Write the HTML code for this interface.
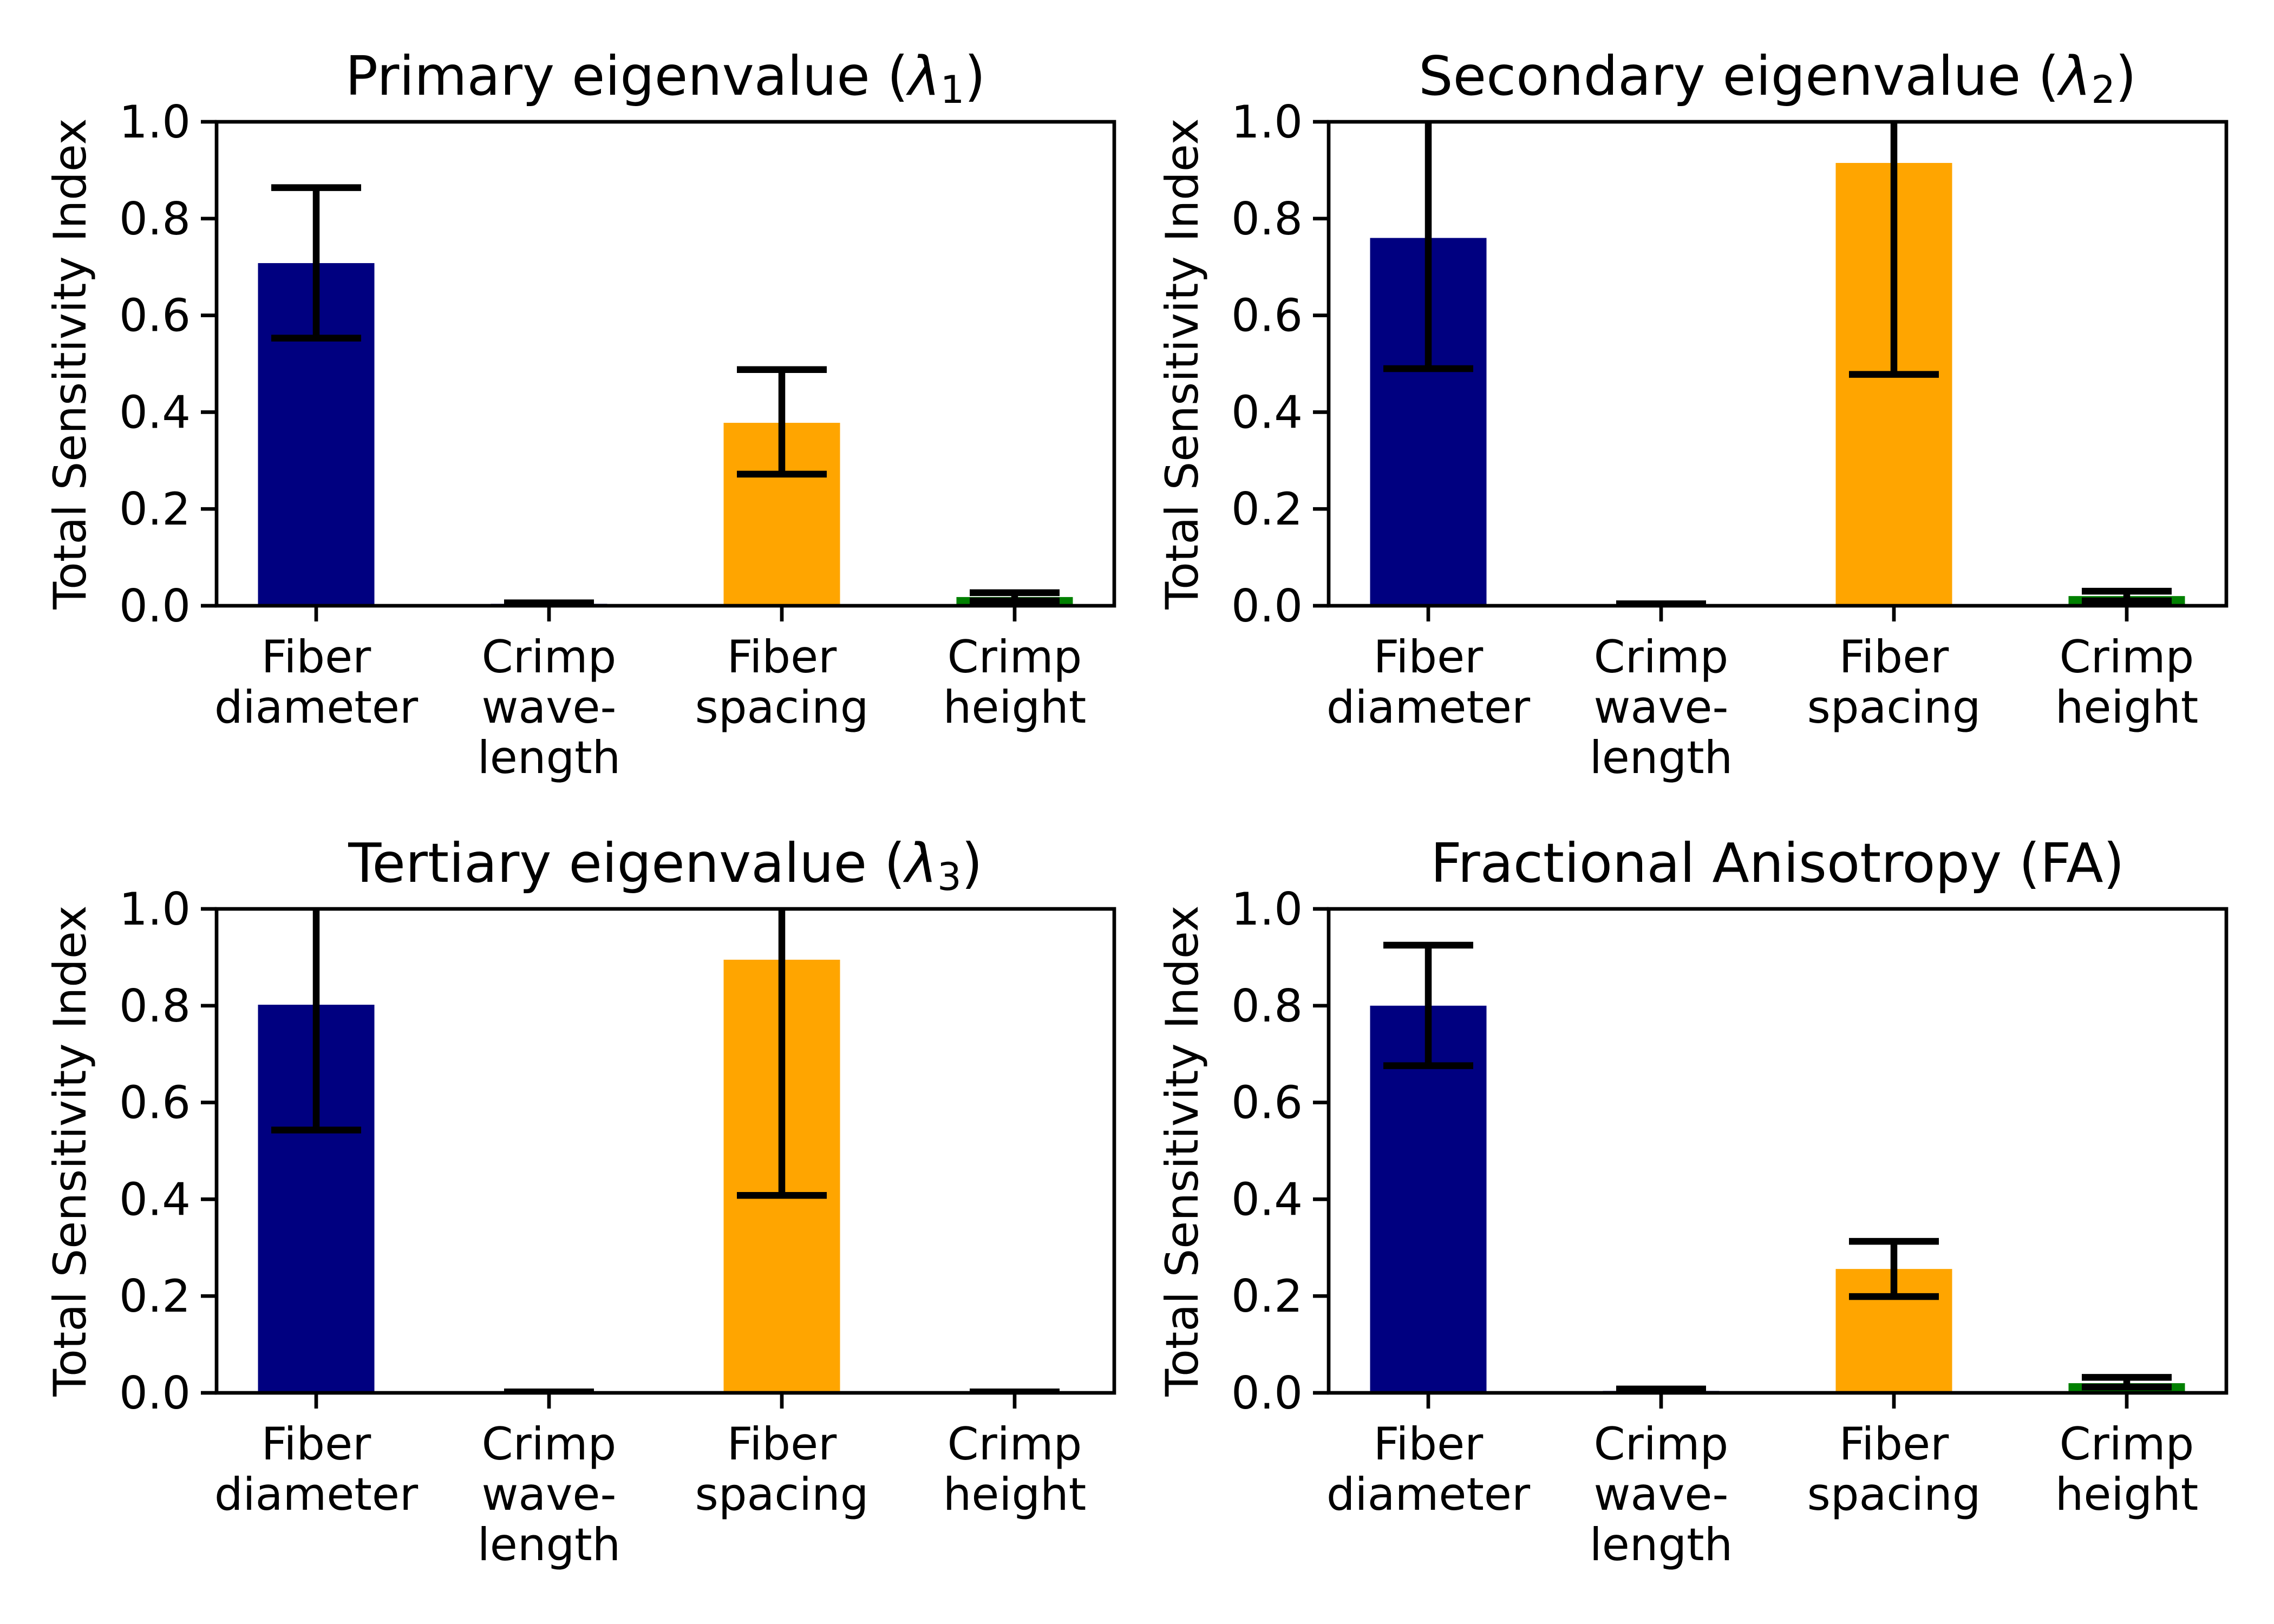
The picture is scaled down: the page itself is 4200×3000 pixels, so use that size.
<!DOCTYPE html>
<html><head><meta charset="utf-8">
<style>
html,body{margin:0;padding:0;background:#fff;}
svg{display:block;font-family:"DejaVu Sans","Liberation Sans",sans-serif;}
</style></head>
<body>
<svg id="fig" width="4200" height="3000" viewBox="0 0 4200 3000" xmlns="http://www.w3.org/2000/svg">
<rect width="4200" height="3000" fill="#fff"/>
</svg>
<script>
const categories = [["Fiber","diameter"],["Crimp","wave-","length"],["Fiber","spacing"],["Crimp","height"]];
const barColors = ["#000080","#000080","#FFA500","#008000"];
const yTicks = [0,0.2,0.4,0.6,0.8,1.0];
const yTickLabels = ["0.0","0.2","0.4","0.6","0.8","1.0"];
const titles = ["Primary eigenvalue (λ1)","Secondary eigenvalue (λ2)","Tertiary eigenvalue (λ3)","Fractional Anisotropy (FA)"];
const values1 = [0.708, 0.004, 0.378, 0.018];
const errLow1 = [0.553, 0.002, 0.272, 0.010];
const errHigh1 = [0.864, 0.006, 0.488, 0.027];
const values2 = [0.760, 0.003, 0.915, 0.020];
const errLow2 = [0.490, 0.002, 0.478, 0.010];
const errHigh2 = [1.030, 0.004, 1.350, 0.030];
const values3 = [0.802, 0.002, 0.895, 0.002];
const errLow3 = [0.543, 0.002, 0.408, 0.002];
const errHigh3 = [1.060, 0.002, 1.380, 0.002];
const values4 = [0.800, 0.004, 0.256, 0.020];
const errLow4 = [0.676, 0.002, 0.199, 0.012];
const errHigh4 = [0.925, 0.008, 0.313, 0.032];

const panels = [
  {x:400,y:225,v:values1,lo:errLow1,hi:errHigh1,t:titles[0],name:"primary-eigenvalue"},
  {x:2454,y:225,v:values2,lo:errLow2,hi:errHigh2,t:titles[1],name:"secondary-eigenvalue"},
  {x:400,y:1679,v:values3,lo:errLow3,hi:errHigh3,t:titles[2],name:"tertiary-eigenvalue"},
  {x:2454,y:1679,v:values4,lo:errLow4,hi:errHigh4,t:titles[3],name:"fractional-anisotropy"}
];
const W = 1658, H = 894, STEP = 430, OFF = 184;
const NS = "http://www.w3.org/2000/svg";
const fig = document.getElementById("fig");
function mk(tag, attrs, parent){
  const e = document.createElementNS(NS, tag);
  for (const k in attrs) e.setAttribute(k, attrs[k]);
  (parent||fig).appendChild(e);
  return e;
}
panels.forEach((p, pi) => {
  const g = mk("g", {});
  
  
  const xs = i => p.x + OFF + i*STEP;
  const ys = v => p.y + H - v*H;
  const cid = "clip"+pi;
  const cp = mk("clipPath", {id:cid}, g);
  mk("rect", {x:p.x, y:p.y, width:W, height:H}, cp);
  const plot = mk("g", {"clip-path":"url(#"+cid+")"}, g);
  // bars
  p.v.forEach((v,i) => {
    const b = mk("rect", {x:xs(i)-STEP/4, y:ys(v), width:STEP/2, height:ys(0)-ys(v), fill:barColors[i]}, plot);
    
    
  });
  // error bars
  p.v.forEach((v,i) => {
    const eg = mk("g", {stroke:"#000","stroke-width":12.5}, plot);
    
    
    mk("line", {x1:xs(i), x2:xs(i), y1:ys(p.lo[i]), y2:ys(p.hi[i])}, eg);
    mk("line", {x1:xs(i)-83, x2:xs(i)+83, y1:ys(p.lo[i]), y2:ys(p.lo[i])}, eg);
    mk("line", {x1:xs(i)-83, x2:xs(i)+83, y1:ys(p.hi[i]), y2:ys(p.hi[i])}, eg);
  });
  // frame
  const fr = mk("rect", {x:p.x, y:p.y, width:W, height:H, fill:"none", stroke:"#000","stroke-width":6.7}, g);
  
  
  // y ticks
  yTicks.forEach((t,k) => {
    mk("line", {x1:p.x-29, x2:p.x, y1:ys(t), y2:ys(t), stroke:"#000","stroke-width":6.7}, g);
    const tl = mk("text", {x:p.x-48, y:ys(t)+29, "font-size":83, "text-anchor":"end"}, g);
    tl.textContent = yTickLabels[k];
    
    
  });
  // x ticks
  categories.forEach((c,i) => {
    mk("line", {x1:xs(i), x2:xs(i), y1:p.y+H, y2:p.y+H+29, stroke:"#000","stroke-width":6.7}, g);
    const tl = mk("text", {x:xs(i), "font-size":83, "text-anchor":"middle"}, g);
    
    
    c.forEach((line,j) => {
      const ts = mk("tspan", {x:xs(i), y:p.y+H+123+j*93}, tl);
      ts.textContent = line;
    });
  });
  // y label
  const yl = mk("text", {transform:"translate("+(p.x-242)+","+(p.y+H/2)+") rotate(-90)", "font-size":83, "text-anchor":"middle"}, g);
  yl.textContent = "Total Sensitivity Index";
  
  
  // title
  const tt = mk("text", {x:p.x+W/2, y:p.y-50, "font-size":100, "text-anchor":"middle"}, g);
  
  
  const m = p.t.match(/^(.*\()λ(\d)(\))$/);
  if (m) {
    const a = mk("tspan", {}, tt); a.textContent = m[1];
    const l = mk("tspan", {"font-style":"italic"}, tt); l.textContent = "λ";
    const s = mk("tspan", {"font-size":70, dy:15}, tt); s.textContent = m[2];
    const e = mk("tspan", {dy:-15}, tt); e.textContent = m[3];
  } else {
    tt.textContent = p.t;
  }
});
</script>
</body></html>
